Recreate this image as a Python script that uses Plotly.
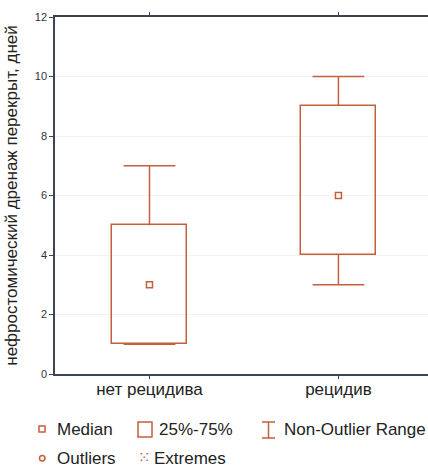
import plotly.graph_objects as go

categories = ["нет рецидива", "рецидив"]
q1 = [1, 4]
median = [3, 6]
q3 = [5, 9]
whisker_min = [1, 3]
whisker_max = [7, 10]
y_ticks = [0, 2, 4, 6, 8, 10, 12]

C = "#c4603c"
FONT = "Liberation Sans, Arial, sans-serif"

fig = go.Figure()

# boxes
fig.add_trace(go.Bar(
    x=categories, y=[b - a for a, b in zip(q1, q3)], base=q1, width=0.4,
    marker=dict(color="rgba(255,255,255,0)", line=dict(color=C, width=1.5)),
    showlegend=False, hoverinfo="skip"))

# whiskers: vertical segments via error bars, caps via markers
fig.add_trace(go.Scatter(
    x=categories, y=whisker_max, mode="markers",
    marker=dict(symbol="line-ew-open", size=37, color=C, line=dict(color=C, width=1.5)),
    error_y=dict(type="data", symmetric=False, array=[0, 0],
                 arrayminus=[b - a for a, b in zip(q3, whisker_max)],
                 color=C, thickness=1.5, width=0),
    hoverinfo="skip", showlegend=False))
fig.add_trace(go.Scatter(
    x=categories, y=whisker_min, mode="markers",
    marker=dict(symbol="line-ew-open", size=37, color=C, line=dict(color=C, width=1.5)),
    error_y=dict(type="data", symmetric=False, arrayminus=[0, 0],
                 array=[a - b for a, b in zip(q1, whisker_min)],
                 color=C, thickness=1.5, width=0),
    hoverinfo="skip", showlegend=False))

# medians
fig.add_trace(go.Scatter(
    x=categories, y=median, mode="markers",
    marker=dict(symbol="square-open", size=6, color=C, line=dict(width=1.5)),
    showlegend=False))

fig.update_layout(
    width=428, height=468,
    margin=dict(l=55, r=0, t=17, b=94, autoexpand=False),
    paper_bgcolor="white", plot_bgcolor="white",
    font=dict(family=FONT, color="#222"),
    showlegend=False,
    bargap=0,
)
fig.update_xaxes(
    type="category", range=[-0.5, 1.474], automargin=False,
    showline=True, linecolor="#3b4652", linewidth=1.5, mirror="ticks",
    ticks="outside", ticklen=3, tickcolor="#3b4652",
    tickfont=dict(size=17, color="#222"), showgrid=False,
    ticklabelstandoff=-4,
)
fig.update_yaxes(
    range=[0, 12], tickvals=y_ticks, automargin=False,
    showline=True, linecolor="#3b4652", linewidth=1.5,
    ticks="outside", ticklen=4, tickcolor="#3b4652",
    tickfont=dict(size=11, color="#333"),
    showgrid=True, gridcolor="#f6f0ee", gridwidth=1, zeroline=False,
    title=dict(text="нефростомический дренаж перекрыт, дней", font=dict(size=17, color="#222"), standoff=13),
)

# manual legend
ann = dict(xref="paper", yref="paper", showarrow=False, font=dict(size=17, color="#222", family=FONT),
           xanchor="left", yanchor="middle")
W, H = 373.0, 357.0
def px(x): return (x - 55) / W
def py(y): return (374 - y) / H

fig.add_shape(type="rect", xref="paper", yref="paper", x0=px(39), x1=px(45), y0=py(432), y1=py(426),
              line=dict(color=C, width=1.5))
fig.add_annotation(text="Median", x=px(55), y=py(430), **ann)
fig.add_shape(type="rect", xref="paper", yref="paper", x0=px(138), x1=px(152), y0=py(437), y1=py(422),
              line=dict(color=C, width=1.5))
fig.add_annotation(text="25%-75%", x=px(157), y=py(430), **ann)
fig.add_shape(type="path", xref="paper", yref="paper",
              path=f"M{px(262)},{py(422)} L{px(275)},{py(422)} M{px(268.5)},{py(422)} L{px(268.5)},{py(438)} M{px(262)},{py(438)} L{px(275)},{py(438)}",
              line=dict(color=C, width=1.5))
fig.add_annotation(text="Non-Outlier Range", x=px(282), y=py(430), **ann)
fig.add_shape(type="circle", xref="paper", yref="paper", x0=px(39.5), x1=px(45), y0=py(461), y1=py(455.5),
              line=dict(color=C, width=1.5))
fig.add_annotation(text="Outliers", x=px(55), y=py(458), **ann)
fig.add_annotation(text="⁙", x=px(136), y=py(458), font=dict(size=15, color=C, family="DejaVu Sans"),
                   xref="paper", yref="paper", showarrow=False, xanchor="left", yanchor="middle")
fig.add_annotation(text="Extremes", x=px(152), y=py(458), **ann)

fig.write_html("out.html", config={"displayModeBar": False},
               post_script="document.body.style.margin='0';document.body.style.overflow='hidden';")
